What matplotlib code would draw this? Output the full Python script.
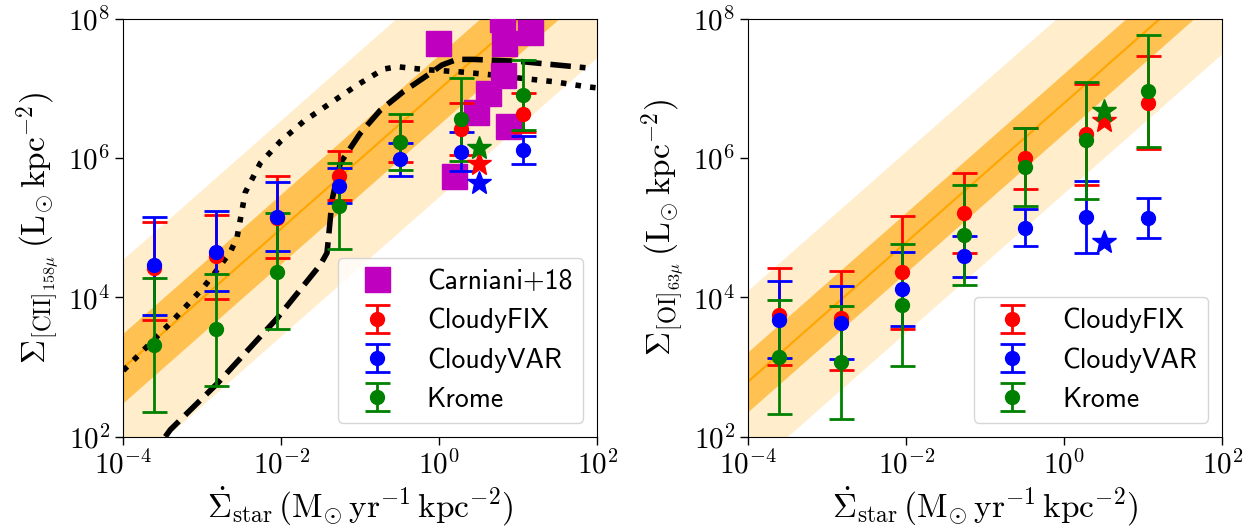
import numpy as np
import matplotlib
matplotlib.use("Agg")
import matplotlib.pyplot as plt
from matplotlib.ticker import NullLocator

plt.rcParams['mathtext.fontset'] = 'cm'

# star formation surface density bins (log10)
sfr_log = [-3.61, -2.83, -2.05, -1.275, -0.50, 0.275, 1.055]
star_sfr_log = 0.50

# [CII] 158 micron, log10 of centre, lower and upper limits
cii_fix = [4.43, 4.59, 5.14, 5.75, 6.24, 6.42, 6.63]
cii_fix_lo = [3.68, 3.98, 4.57, 5.40, 5.94, 6.04, 6.38]
cii_fix_hi = [5.09, 5.19, 5.74, 6.10, 6.53, 6.79, 6.94]
cii_var = [4.47, 4.66, 5.16, 5.60, 5.99, 6.09, 6.12]
cii_var_lo = [3.75, 4.09, 4.67, 5.35, 5.75, 5.82, 5.92]
cii_var_hi = [5.16, 5.24, 5.66, 5.86, 6.22, 6.37, 6.32]
cii_krome = [3.32, 3.54, 4.37, 5.32, 6.24, 6.56, 6.91]
cii_krome_lo = [2.36, 2.73, 3.55, 4.69, 5.83, 5.96, 6.41]
cii_krome_hi = [4.28, 4.34, 5.21, 5.93, 6.64, 7.15, 7.41]
cii_stars = [5.92, 5.65, 6.14]   # FIX, VAR, Krome

# [OI] 63 micron
oi_fix = [3.75, 3.70, 4.36, 5.21, 6.00, 6.35, 6.80]
oi_fix_lo = [3.03, 2.96, 3.54, 4.64, 5.56, 5.61, 6.13]
oi_fix_hi = [4.43, 4.38, 5.17, 5.79, 6.44, 7.07, 7.47]
oi_var = [3.68, 3.64, 4.12, 4.60, 5.00, 5.15, 5.14]
oi_var_lo = [3.13, 3.12, 3.59, 4.30, 4.74, 4.64, 4.85]
oi_var_hi = [4.23, 4.17, 4.66, 4.89, 5.27, 5.67, 5.43]
oi_krome = [3.14, 3.07, 3.89, 4.90, 5.88, 6.26, 6.97]
oi_krome_lo = [2.32, 2.26, 3.01, 4.18, 5.32, 5.42, 6.16]
oi_krome_hi = [3.97, 3.88, 4.77, 5.62, 6.44, 7.09, 7.77]
oi_stars = [6.54, 4.80, 6.68]

# Carniani+18 (log10)
carn_x = [-0.02, 0.79, 1.15, 0.82, 0.81, 0.62, 0.46, 0.865, 0.18]
carn_y = [7.65, 8.0, 7.81, 7.66, 7.20, 6.93, 6.67, 6.46, 5.75]

# model curves (log10)
dot_x = [-4.0, -3.573, -3.405, -3.004, -2.877, -2.646, -2.561, -2.456, -2.266,
         -2.013, -1.718, -1.380, -1.042, -0.706, -0.535, -0.325, -0.135, 0.266,
         0.646, 1.025, 1.447, 1.848, 2.0]
dot_y = [2.95, 3.44, 3.63, 4.12, 4.30, 4.65, 4.86, 5.51, 5.93,
         6.24, 6.53, 6.79, 7.05, 7.28, 7.315, 7.29, 7.27, 7.24,
         7.20, 7.15, 7.10, 7.03, 7.01]
dash_x = [-3.468, -3.405, -2.814, -2.054, -1.506, -1.422, -1.405, -1.358, -1.253,
          -1.0, -0.747, -0.452, -0.114, 0.034, 0.224, 0.434, 1.025, 1.85]
dash_y = [2.0, 2.10, 2.76, 3.70, 4.47, 4.64, 4.83, 5.40, 5.93,
          6.36, 6.69, 6.96, 7.22, 7.34, 7.42, 7.42, 7.39, 7.30]

# De Looze-like relations: log y = a + slope * log x, dispersion bands
cii_rel = (6.99, 1.0, 0.5, 1.55)
oi_rel = (6.794, 1.0, 0.43, 1.3)

x_line = np.logspace(-4, 2, 200)


def draw_panel(ax, rel, series, stars):
    a, slope, s1, s3 = rel
    ly = a + slope * np.log10(x_line)
    ax.fill_between(x_line, 10**(ly - s3), 10**(ly + s3), color='orange',
                    alpha=0.2, lw=0)
    ax.fill_between(x_line, 10**(ly - s1), 10**(ly + s1), color='orange',
                    alpha=0.6, lw=0)
    ax.plot(x_line, 10**ly, color='orange', lw=1.5)
    xs = 10**np.array(sfr_log)
    for (yc, ylo, yhi, col, lab), st in zip(series, stars):
        yc = np.array(yc)
        err = [10**yc - 10**np.array(ylo), 10**np.array(yhi) - 10**yc]
        ax.errorbar(xs, 10**yc, yerr=err, fmt='o', color=col, ms=10, lw=2,
                    capsize=9, capthick=2, label=lab, zorder=5)
        ax.plot(10**star_sfr_log, 10**st, '*', color=col, ms=18, zorder=6)
    ax.set_xscale('log')
    ax.set_yscale('log')
    ax.set_xlim(1e-4, 1e2)
    ax.set_ylim(1e2, 1e8)
    ax.set_xticks([1e-4, 1e-2, 1, 1e2],
                  labels=[r'$10^{-4}$', r'$10^{-2}$', r'$10^{0}$', r'$10^{2}$'])
    ax.set_yticks([1e2, 1e4, 1e6, 1e8],
                  labels=[r'$10^{2}$', r'$10^{4}$', r'$10^{6}$', r'$10^{8}$'])
    ax.xaxis.set_minor_locator(NullLocator())
    ax.yaxis.set_minor_locator(NullLocator())
    ax.tick_params(labelsize=21, length=6, width=1)
    ax.set_xlabel(r'$\dot{\Sigma}_{\mathrm{star}}\,(\mathrm{M}_{\odot}\,'
                  r'\mathrm{yr}^{-1}\,\mathrm{kpc}^{-2})$', fontsize=24)


fig = plt.figure(figsize=(12.57, 5.31), dpi=100)
ax1 = fig.add_axes([0.0981, 0.1776, 0.3771, 0.7866])
ax2 = fig.add_axes([0.5953, 0.1776, 0.3771, 0.7866])

ax1.plot(10**np.array(carn_x), 10**np.array(carn_y), 's', color='m', ms=18,
         label='Carniani+18', zorder=4)
ax1.plot(10**np.array(dot_x), 10**np.array(dot_y), ':', color='k', lw=4, zorder=3)
ax1.plot(10**np.array(dash_x), 10**np.array(dash_y), '--', color='k', lw=4, zorder=3)

draw_panel(ax1, cii_rel,
           [(cii_fix, cii_fix_lo, cii_fix_hi, 'r', 'CloudyFIX'),
            (cii_var, cii_var_lo, cii_var_hi, 'b', 'CloudyVAR'),
            (cii_krome, cii_krome_lo, cii_krome_hi, 'g', 'Krome')],
           cii_stars)
draw_panel(ax2, oi_rel,
           [(oi_fix, oi_fix_lo, oi_fix_hi, 'r', 'CloudyFIX'),
            (oi_var, oi_var_lo, oi_var_hi, 'b', 'CloudyVAR'),
            (oi_krome, oi_krome_lo, oi_krome_hi, 'g', 'Krome')],
           oi_stars)

ax1.set_ylabel(r'$\Sigma_{[\mathrm{CII}]_{158\mu}}\,(\mathrm{L}_{\odot}\,'
               r'\mathrm{kpc}^{-2})$', fontsize=24)
ax2.set_ylabel(r'$\Sigma_{[\mathrm{OI}]_{63\mu}}\,(\mathrm{L}_{\odot}\,'
               r'\mathrm{kpc}^{-2})$', fontsize=24)

leg_font = {'family': 'cmss10', 'size': 20}
ax1.legend(loc='lower right', prop=leg_font)
ax2.legend(loc='lower right', prop=leg_font)

fig.savefig('out.png', dpi=100)
